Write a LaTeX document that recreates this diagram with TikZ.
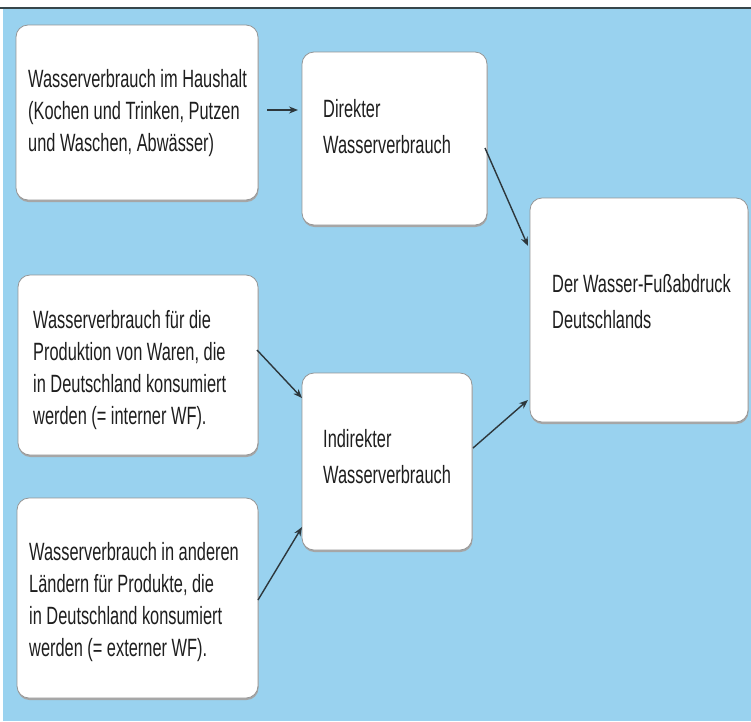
\documentclass[tikz,border=0pt]{standalone}
\usepackage{fontspec}
\setmainfont{Liberation Sans}[FakeStretch=0.655]
\usetikzlibrary{calc,shadows,arrows.meta}
\definecolor{bgblue}{RGB}{153,210,239}
\definecolor{boxline}{RGB}{150,150,150}
\definecolor{arrowcol}{RGB}{45,55,60}
\definecolor{textcol}{RGB}{30,30,30}
\definecolor{topline}{RGB}{55,70,75}
\begin{document}
\begin{tikzpicture}[x=1pt,y=-1pt,
  box/.style={draw=boxline, line width=0.8pt, fill=white, rounded corners=12pt,
    inner sep=0pt, outer sep=0pt, anchor=north west,
    drop shadow={shadow xshift=0.5pt, shadow yshift=-2pt, fill=gray!70, opacity=1}},
  txt/.style={inner sep=0pt, anchor=base west, text=textcol, font=\fontsize{25}{32}\selectfont},
  txtwide/.style={txt, font=\fontsize{25}{36}\selectfont},
  arr/.style={-{Stealth[length=9pt,width=7pt]}, line width=1.4pt, draw=arrowcol}]
\useasboundingbox (0,0) rectangle (751,721);
\fill[white] (0,0) rectangle (751,721);
\fill[bgblue] (3,8) rectangle (751,721);
\draw[topline, line width=2pt] (0,7.5) -- (751,7.5);

% boxes
\node[box, minimum width=242pt, minimum height=175pt] (b1) at (16,25) {};
\node[box, minimum width=185pt, minimum height=173pt] (b2) at (302,52) {};
\node[box, minimum width=218pt, minimum height=224pt] (b3) at (530,198) {};
\node[box, minimum width=240pt, minimum height=180pt] (b4) at (18,275) {};
\node[box, minimum width=170pt, minimum height=177pt] (b5) at (302,373) {};
\node[box, minimum width=241pt, minimum height=200pt] (b6) at (17,498) {};

% texts
\node[txt] (t1) at (28,87) {\begin{tabular}[t]{@{}l@{}}Wasserverbrauch im Haushalt\\(Kochen und Trinken, Putzen\\und Waschen, Abwässer)\end{tabular}};
\node[txtwide] (t2) at (323,117) {\begin{tabular}[t]{@{}l@{}}Direkter\\Wasserverbrauch\end{tabular}};
\node[txtwide] (t3) at (552,292) {\begin{tabular}[t]{@{}l@{}}Der Wasser-Fußabdruck\\Deutschlands\end{tabular}};
\node[txt] (t4) at (33,328) {\begin{tabular}[t]{@{}l@{}}Wasserverbrauch für die\\Produktion von Waren, die\\in Deutschland konsumiert\\werden (= interner WF).\end{tabular}};
\node[txtwide] (t5) at (323,447) {\begin{tabular}[t]{@{}l@{}}Indirekter\\Wasserverbrauch\end{tabular}};
\node[txt] (t6) at (29,560) {\begin{tabular}[t]{@{}l@{}}Wasserverbrauch in anderen\\Ländern für Produkte, die\\in Deutschland konsumiert\\werden (= externer WF).\end{tabular}};

% arrows
\draw[arr] ($(b1.east)+(9,-2.5)$) -- ($(b2.west)+(-4,-28.5)$);
\draw[arr] ($(b2.east)+(-2,9.5)$) -- ($(b3.west)+(-2,-64)$);
\draw[arr] ($(b4.east)+(-1,-15)$) -- ($(b5.west)+(0,-63.5)$);
\draw[arr] ($(b6.east)+(0,2)$) -- ($(b5.west)+(0,65.5)$);
\draw[arr] ($(b5.east)+(1,-13.5)$) -- ($(b3.west)+(-2,90)$);
\end{tikzpicture}
\end{document}
